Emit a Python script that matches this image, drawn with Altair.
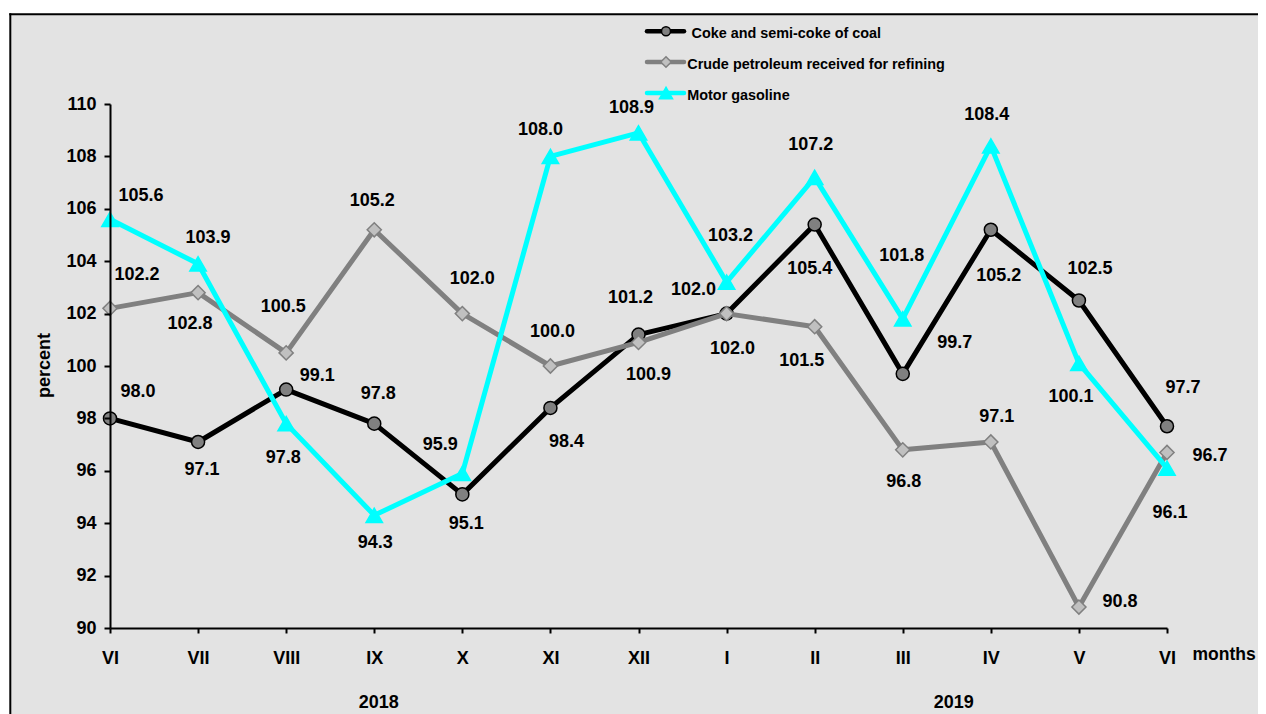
import altair as alt
import pandas as pd

# ---------------- data ----------------
MONTHS = ["VI", "VII", "VIII", "IX", "X", "XI", "XII", "I", "II", "III", "IV", "V", "VI"]
YEARS = ["2018", "2019"]
YEAR_POS = [3.05, 9.58]
SERIES = ["Coke and semi-coke of coal",
          "Crude petroleum received for refining",
          "Motor gasoline"]
COKE = [98.0, 97.1, 99.1, 97.8, 95.1, 98.4, 101.2, 102.0, 105.4, 99.7, 105.2, 102.5, 97.7]
CRUDE = [102.2, 102.8, 100.5, 105.2, 102.0, 100.0, 100.9, 102.0, 101.5, 96.8, 97.1, 90.8, 96.7]
GASOLINE = [105.6, 103.9, 97.8, 94.3, 95.9, 108.0, 108.9, 103.2, 107.2, 101.8, 108.4, 100.1, 96.1]

# label placement (pixel offsets of each value label from its point)
COKE_LDX = [28, 4, 31, 4, 4, 16, -8, -33, -5, 52, 8, 11, 16]
COKE_LDY = [-26, 28, -14, -30, 30, 34, -37, -24, 44, -31, 46, -32, -38]
CRUDE_LDX = [27, -8, -3, -2, 10, 2, 10, 6, -13, 1, 6, 41, 43]
CRUDE_LDY = [-33, 31, -46, -29, -35, -34, 33, 35, 34, 32, -25, -5, 4]
GAS_LDX = [31, 10, -3, 1, -22, -10, -7, 4, -4, -1, -4, -8, 3]
GAS_LDY = [-23, -26, 34, 28, -28, -26, -25, -46, -32, -63, -31, 34, 45]

# ---------------- layout ----------------
W, H = 1057, 524
PXX = W / 12.0
PXY = H / 20.0
FONT = "Liberation Sans"
EDGE_X = 1250 - 102   # right edge of the canvas in plot coordinates
EDGE_Y = 706 - 96     # bottom edge of the canvas in plot coordinates

STYLES = [
    dict(line="#000000", shape="circle", fill="#808080", stroke="#000000", size=170, lsize=81),
    dict(line="#808080", shape="diamond", fill="#c0c0c0", stroke="#808080", size=200, lsize=110),
    dict(line="#00ffff", shape="triangle-up", fill="#00ffff", stroke="#00ffff", size=270, lsize=170),
]

rows = []
for name, vals, ldx, ldy in zip(SERIES, [COKE, CRUDE, GASOLINE],
                                [COKE_LDX, CRUDE_LDX, GAS_LDX],
                                [COKE_LDY, CRUDE_LDY, GAS_LDY]):
    for i, v in enumerate(vals):
        rows.append(dict(series=name, idx=i, month=MONTHS[i], value=v,
                         label=f"{v:.1f}",
                         lx=i + ldx[i] / PXX, ly=v - ldy[i] / PXY))
df = pd.DataFrame(rows)

month_expr = "[" + ",".join(f"'{m}'" for m in MONTHS) + "][datum.value]"

xscale = alt.Scale(domain=[0, 12], nice=False, zero=False)
yscale = alt.Scale(domain=[90, 110], nice=False, zero=False)

xaxis = alt.Axis(values=list(range(13)), labelExpr=month_expr, grid=False,
                 title="months", titleX=1082, titleY=31.3, titleAlign="left",
                 titleBaseline="alphabetic", titleAngle=0,
                 titleFont=FONT, titleFontSize=17.5, titleFontWeight="bold", titleColor="black",
                 labelFont=FONT, labelFontSize=18, labelFontWeight="bold", labelColor="black",
                 labelBaseline="alphabetic", labelPadding=30, labelFlush=False, labelOverlap=False,
                 tickSize=5, tickWidth=2, tickColor="black",
                 domainWidth=2, domainColor="black", zindex=1)
yaxis = alt.Axis(values=list(range(90, 111, 2)), grid=False,
                 title="percent", titleX=-60.5, titleY=261, titleAngle=-90,
                 titleAlign="center", titleBaseline="alphabetic",
                 titleFont=FONT, titleFontSize=18, titleFontWeight="bold", titleColor="black",
                 labelFont=FONT, labelFontSize=18, labelFontWeight="bold", labelColor="black",
                 labelPadding=8, labelFlush=False, labelOverlap=False,
                 tickSize=6, tickWidth=2, tickColor="black",
                 domainWidth=2, domainColor="black", zindex=1)

X = alt.X("idx:Q", scale=xscale, axis=xaxis)
Y = alt.Y("value:Q", scale=yscale, axis=yaxis)

one = pd.DataFrame({"k": [0]})

# background panel with its top and left border
panel = alt.Chart(one).mark_rect(fill="#e3e3e3").encode(
    x=alt.value(10.3 - 110), x2=alt.value(EDGE_X),
    y=alt.value(14.3 - 104), y2=alt.value(EDGE_Y))
top_border = alt.Chart(one).mark_rule(color="black", strokeWidth=2).encode(
    x=alt.value(9.3 - 110), x2=alt.value(EDGE_X), y=alt.value(14.3 - 104))
left_border = alt.Chart(one).mark_rule(color="black", strokeWidth=2).encode(
    x=alt.value(10.3 - 110), y=alt.value(13.3 - 104), y2=alt.value(EDGE_Y))

layers = [panel, top_border, left_border]
for name, st in zip(SERIES, STYLES):
    base = alt.Chart(df).transform_filter(alt.datum.series == name)
    layers.append(base.mark_line(color=st["line"], strokeWidth=5, strokeJoin="round").encode(x=X, y=Y))
    layers.append(base.mark_point(shape=st["shape"], fill=st["fill"], stroke=st["stroke"],
                                  strokeWidth=1.5, size=st["size"], opacity=1, fillOpacity=1,
                                  filled=True).encode(x=X, y=Y))

labels = alt.Chart(df).mark_text(font=FONT, fontSize=18, fontWeight="bold", color="black",
                                 align="center", baseline="middle").encode(
    x=alt.X("lx:Q", scale=xscale, axis=xaxis),
    y=alt.Y("ly:Q", scale=yscale, axis=yaxis),
    text="label:N")
layers.append(labels)

years = alt.Chart(pd.DataFrame({"year": YEARS, "pos": YEAR_POS})).mark_text(
    font=FONT, fontSize=18, fontWeight="bold", color="black",
    align="center", baseline="alphabetic").encode(
    x=alt.X("pos:Q", scale=xscale, axis=xaxis), y=alt.value(604), text="year:N")
layers.append(years)

# legend
LEG_LINE_Y = [-72.7, -42.0, -11.0]
LEG_TEXT_Y = [-65.7, -35.0, -3.6]
LEG_TEXT_X = [581.5, 577.3, 577.3]
for i, (name, st) in enumerate(zip(SERIES, STYLES)):
    ld = pd.DataFrame({"name": [name]})
    layers.append(alt.Chart(ld).mark_rule(color=st["line"], strokeWidth=4.5, strokeCap="round").encode(
        x=alt.value(537), x2=alt.value(574), y=alt.value(LEG_LINE_Y[i])))
    layers.append(alt.Chart(ld).mark_point(shape=st["shape"], fill=st["fill"], stroke=st["stroke"],
                                           strokeWidth=1.5, size=st["lsize"], opacity=1,
                                           fillOpacity=1, filled=True).encode(
        x=alt.value(556), y=alt.value(LEG_LINE_Y[i])))
    layers.append(alt.Chart(ld).mark_text(font=FONT, fontSize=14.4, fontWeight="bold",
                                          color="black", align="left",
                                          baseline="alphabetic").encode(
        x=alt.value(LEG_TEXT_X[i]), y=alt.value(LEG_TEXT_Y[i]), text="name:N"))

chart = alt.layer(*layers).properties(
    width=W, height=H,
    autosize=alt.AutoSizeParams(type="none"),
    padding={"left": 102, "top": 96, "right": 91, "bottom": 86},
    background="white",
).configure_view(stroke=None)

chart.save("out.html", embed_options={"renderer": "svg", "actions": False})
